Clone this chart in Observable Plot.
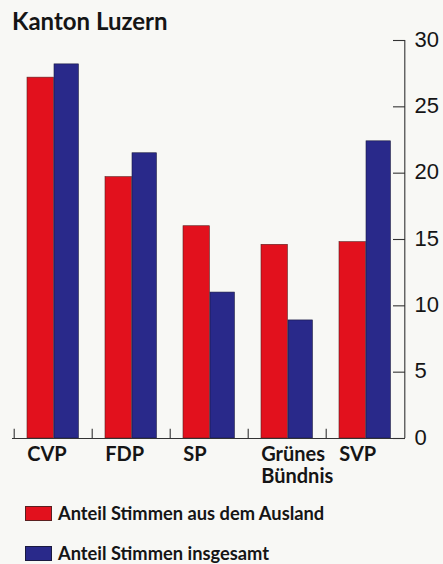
<!DOCTYPE html>
<html><head><meta charset="utf-8">
<script src="https://cdn.jsdelivr.net/npm/d3@7"></script>
<script src="https://cdn.jsdelivr.net/npm/@observablehq/plot@0.6"></script>
<style>
body{margin:0;background:#f8f8f5;}
#wrap{position:relative;width:443px;height:564px;overflow:hidden;background:#f8f8f5;}
#chart svg{display:block;background:transparent;}
#title{position:absolute;left:12px;top:9px;font:700 24px/24px Lato,sans-serif;color:#151515;}
.leg{position:absolute;left:25px;height:15px;font:700 18.3px/15px Lato,sans-serif;color:#151515;display:flex;align-items:center;white-space:nowrap;}
.sw{width:27px;height:15px;margin-right:6px;box-sizing:border-box;}
</style></head><body>
<div id="wrap"><div id="chart"></div><div id="title">Kanton Luzern</div><div id="legend"></div></div>
<script>
const parties = ["CVP", "FDP", "SP", "Grünes\nBündnis", "SVP"];
const auslandValues = [27.2, 19.7, 16.0, 14.6, 14.8];
const totalValues = [28.2, 21.5, 11.0, 8.9, 22.4];
const seriesNames = ["Anteil Stimmen aus dem Ausland", "Anteil Stimmen insgesamt"];
const seriesColors = ["#e2111d", "#29298a"];
const yTicks = [0, 5, 10, 15, 20, 25, 30];

const W = 443, H = 564, mL = 12, mR = 38, mT = 40, mB = 126;
const bw = (W - mL - mR) / parties.length;
const ausland = parties.map((p, i) => ({party: p, value: auslandValues[i]}));
const total = parties.map((p, i) => ({party: p, value: totalValues[i]}));

const chart = Plot.plot({
  width: W, height: H,
  marginLeft: mL, marginRight: mR, marginTop: mT, marginBottom: mB,
  style: {fontFamily: "Lato, sans-serif", background: "transparent", color: "#151515"},
  x: {domain: parties, padding: 0, axis: null},
  y: {domain: [0, 30], axis: null},
  marks: [
    Plot.barY(ausland, {x: "party", y: "value", fill: seriesColors[0], stroke: "#5a2020", strokeWidth: 0.6, insetLeft: 13, insetRight: bw - 40}),
    Plot.barY(total, {x: "party", y: "value", fill: seriesColors[1], stroke: "#1a1a40", strokeWidth: 0.6, insetLeft: 40, insetRight: bw - 65}),
    Plot.ruleY([0], {stroke: "#333", strokeWidth: 1.1}),
    Plot.ruleX(parties, {x: d => d, dx: -bw / 2, y1: 0, y2: 0.7, stroke: "#333", strokeWidth: 1.1}),
    Plot.ruleX([parties[parties.length - 1]], {x: d => d, dx: bw / 2, y1: 0, y2: 30, stroke: "#333", strokeWidth: 1.1}),
    Plot.ruleY(yTicks, {y: d => d, insetLeft: (W - mL - mR) - 12, stroke: "#333", strokeWidth: 1.1}),
    Plot.axisY({anchor: "right", ticks: yTicks, tickSize: 0, tickPadding: 9, fontSize: 22, fontFamily: "Liberation Sans, Arial, sans-serif", fill: "#151515", label: null, dy: -1}),
    Plot.axisX({anchor: "bottom", tickSize: 0, tickPadding: 7, fontSize: 20, fontWeight: "bold", textAnchor: "start", dx: 13 - bw / 2, lineHeight: 1.1, fill: "#151515", label: null})
  ]
});
document.getElementById("chart").appendChild(chart);

const legend = document.getElementById("legend");
const legTops = [506, 546];
seriesNames.forEach((name, i) => {
  const row = document.createElement("div");
  row.className = "leg";
  row.style.top = legTops[i] + "px";
  const sw = document.createElement("span");
  sw.className = "sw";
  sw.style.background = seriesColors[i];
  sw.style.border = "0.6px solid " + (i === 0 ? "#5a2020" : "#1a1a40");
  const t = document.createElement("span");
  t.textContent = name;
  row.appendChild(sw); row.appendChild(t);
  legend.appendChild(row);
});
</script>
</body></html>
